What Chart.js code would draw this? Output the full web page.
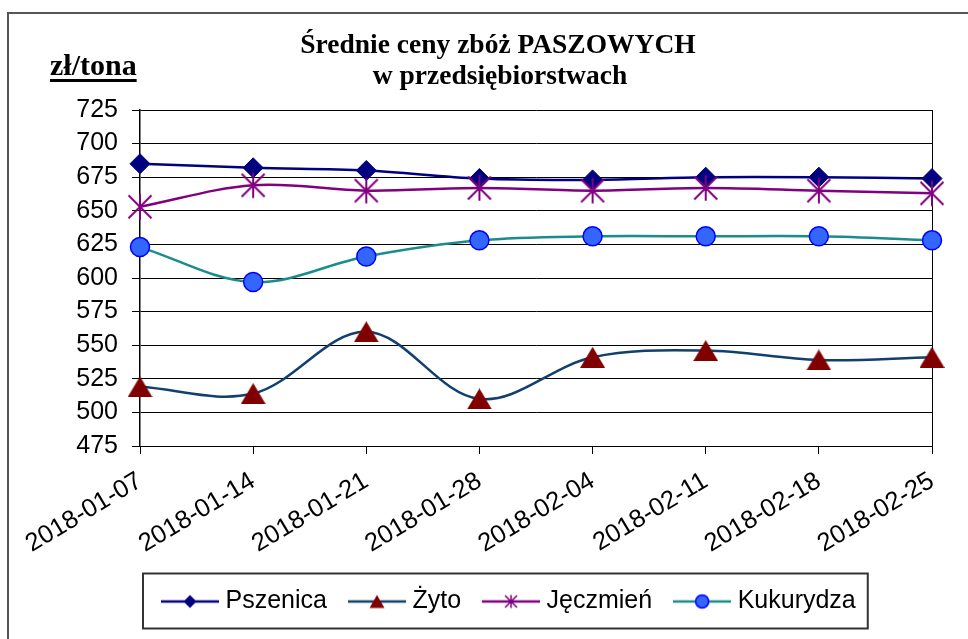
<!DOCTYPE html>
<html>
<head>
<meta charset="utf-8">
<script src="https://cdn.jsdelivr.net/npm/chart.js@4.4.1/dist/chart.umd.min.js"></script>
<style>
  html, body { margin: 0; padding: 0; background: #fff; }
  #wrap { width: 968px; height: 639px; }
</style>
</head>
<body>
<div id="wrap"><canvas id="wykres" width="968" height="639"></canvas></div>
<script>
// dane (zł/tona)
const daty = ["2018-01-07", "2018-01-14", "2018-01-21", "2018-01-28",
              "2018-02-04", "2018-02-11", "2018-02-18", "2018-02-25"];
const pszenica  = [685, 682, 680, 674, 673, 675, 675, 674];
const zyto      = [519, 514, 560, 510, 541, 546, 539, 541];
const jeczmien  = [653, 669, 665, 667, 665, 667, 665, 663];
const kukurydza = [623, 597, 616, 628, 631, 631, 631, 628];
const nazwy = ["Pszenica", "Żyto", "Jęczmień", "Kukurydza"];
const osY = { min: 475, max: 725, krok: 25 };

const SANS = "'Liberation Sans', Arial, sans-serif";
const SERIF = "'Liberation Serif', 'Times New Roman', serif";

// --- znaczniki jako małe płótna ---
function nowePlotno(w, h) {
  const c = document.createElement("canvas");
  c.width = w;
  c.height = h;
  return c;
}

function trojkat(ctx, cx, cy, w, h, kolor) {
  ctx.fillStyle = kolor;
  ctx.beginPath();
  ctx.moveTo(cx, cy - h / 2);
  ctx.lineTo(cx + w / 2, cy + h / 2);
  ctx.lineTo(cx - w / 2, cy + h / 2);
  ctx.closePath();
  ctx.fill();
}

function gwiazdka(ctx, cx, cy, r, kolor, grubosc) {
  ctx.strokeStyle = kolor;
  ctx.lineWidth = grubosc;
  ctx.beginPath();
  ctx.moveTo(cx, cy - r * 1.1);
  ctx.lineTo(cx, cy + r * 1.1);
  ctx.moveTo(cx - r, cy - r);
  ctx.lineTo(cx + r, cy + r);
  ctx.moveTo(cx - r, cy + r);
  ctx.lineTo(cx + r, cy - r);
  ctx.stroke();
}

function romb(ctx, cx, cy, r, kolor) {
  ctx.fillStyle = kolor;
  ctx.beginPath();
  ctx.moveTo(cx, cy - r);
  ctx.lineTo(cx + r, cy);
  ctx.lineTo(cx, cy + r);
  ctx.lineTo(cx - r, cy);
  ctx.closePath();
  ctx.fill();
}

function kolko(ctx, cx, cy, r, wypelnienie, obrys) {
  ctx.fillStyle = wypelnienie;
  ctx.strokeStyle = obrys;
  ctx.lineWidth = 1.5;
  ctx.beginPath();
  ctx.arc(cx, cy, r, 0, Math.PI * 2);
  ctx.fill();
  ctx.stroke();
}

const znacznikTrojkat = nowePlotno(25, 21);
trojkat(znacznikTrojkat.getContext("2d"), 12.5, 10.5, 25, 21, "#800000");

const znacznikGwiazda = nowePlotno(26, 28);
gwiazdka(znacznikGwiazda.getContext("2d"), 13, 14, 11.5, "#800080", 2);

// symbole legendy: linia z małym znacznikiem
function symbolLegendy(kolorLinii, rysuj) {
  const c = nowePlotno(58, 24);
  const ctx = c.getContext("2d");
  ctx.strokeStyle = kolorLinii;
  ctx.lineWidth = 2.5;
  ctx.beginPath();
  ctx.moveTo(0, 12);
  ctx.lineTo(58, 12);
  ctx.stroke();
  rysuj(ctx);
  return c;
}

const symbole = [
  symbolLegendy("#000080", (ctx) => romb(ctx, 29, 12, 6.5, "#000080")),
  symbolLegendy("#123f6e", (ctx) => trojkat(ctx, 29, 12, 15, 13, "#800000")),
  symbolLegendy("#800080", (ctx) => gwiazdka(ctx, 29, 12, 6, "#800080", 1.5)),
  symbolLegendy("#1a8c8c", (ctx) => kolko(ctx, 29, 12, 6.5, "#3366ff", "#0000ff")),
];

// --- wtyczki: ramka, tytuły, ramka legendy ---
const ramkaWykresu = {
  id: "ramkaWykresu",
  beforeDraw(chart) {
    const ctx = chart.ctx;
    ctx.save();
    ctx.fillStyle = "#fff";
    ctx.fillRect(0, 0, chart.width, chart.height);
    ctx.strokeStyle = "#555";
    ctx.lineWidth = 2;
    ctx.beginPath();
    ctx.moveTo(8, chart.height);
    ctx.lineTo(8, 13);
    ctx.lineTo(chart.width, 13);
    ctx.stroke();
    ctx.restore();
  },
};

const tytuly = {
  id: "tytuly",
  afterDraw(chart) {
    const ctx = chart.ctx;
    ctx.save();
    ctx.fillStyle = "#000";
    ctx.textBaseline = "alphabetic";
    ctx.textAlign = "center";
    ctx.font = "bold 27.5px " + SERIF;
    ctx.fillText("Średnie ceny zbóż PASZOWYCH", 498, 53);
    ctx.fillText("w przedsiębiorstwach", 500, 84);

    ctx.textAlign = "left";
    ctx.font = "bold 30px " + SERIF;
    ctx.fillText("zł/tona", 50, 75);
    const w = ctx.measureText("zł/tona").width;
    ctx.fillRect(50, 79, w, 3);
    ctx.restore();
  },
};

const ramkaLegendy = {
  id: "ramkaLegendy",
  afterDraw(chart) {
    const boxes = chart.legend && chart.legend.legendHitBoxes;
    if (!boxes || !boxes.length) return;
    const first = boxes[0];
    const last = boxes[boxes.length - 1];
    const srodek = first.top + first.height / 2;
    const ctx = chart.ctx;
    ctx.save();
    ctx.strokeStyle = "#333";
    ctx.lineWidth = 2;
    ctx.strokeRect(first.left - 24, srodek - 28, last.left + last.width + 12 - (first.left - 24), 55);
    ctx.restore();
  },
};

function serie(label, data, kolor, extra) {
  return Object.assign({
    label: label,
    data: data,
    borderColor: kolor,
    backgroundColor: kolor,
    borderWidth: 2.5,
    tension: 0.35,
    clip: false,
  }, extra);
}

const ctx = document.getElementById("wykres").getContext("2d");
new Chart(ctx, {
  type: "line",
  data: {
    labels: daty,
    datasets: [
      serie(nazwy[0], pszenica, "#000080", {
        order: 4,
        pointStyle: "rectRot",
        pointRadius: 10,
        pointBackgroundColor: "#000080",
        pointBorderColor: "#000080",
        pointBorderWidth: 1,
      }),
      serie(nazwy[1], zyto, "#123f6e", {
        order: 3,
        pointStyle: znacznikTrojkat,
      }),
      serie(nazwy[2], jeczmien, "#800080", {
        order: 2,
        pointStyle: znacznikGwiazda,
      }),
      serie(nazwy[3], kukurydza, "#1a8c8c", {
        order: 1,
        pointStyle: "circle",
        pointRadius: 9.5,
        pointBackgroundColor: "#3366ff",
        pointBorderColor: "#0000ff",
        pointBorderWidth: 1.5,
      }),
    ],
  },
  options: {
    responsive: false,
    animation: false,
    devicePixelRatio: 1,
    layout: {
      padding: { top: 110, left: 0, right: 36, bottom: 15 },
    },
    plugins: {
      title: { display: false },
      tooltip: { enabled: false },
      legend: {
        position: "bottom",
        fullSize: false,
        align: "start",
        labels: {
          usePointStyle: true,
          pointStyleWidth: 46,
          padding: 27,
          color: "#000",
          font: { family: SANS, size: 25 },
          generateLabels: () => nazwy.map((n, i) => ({
            text: n,
            pointStyle: symbole[i],
            fillStyle: "#000",
            strokeStyle: "#000",
            lineWidth: 0,
            hidden: false,
            datasetIndex: i,
            fontColor: "#000",
          })),
        },
      },
    },
    scales: {
      x: {
        offset: false,
        grid: {
          color: (c) => (c.index === daty.length - 1 ? "#000" : "rgba(0,0,0,0)"),
          tickColor: "#000",
          tickLength: 8,
          lineWidth: 1,
        },
        border: { color: "#000", width: 1 },
        ticks: {
          autoSkip: false,
          minRotation: 31,
          maxRotation: 31,
          padding: 12,
          color: "#000",
          font: { family: SANS, size: 25.5 },
        },
        afterFit: (s) => { s.height = 116; },
      },
      y: {
        min: osY.min,
        max: osY.max,
        grid: { color: "#000", tickColor: "#000", tickLength: 8, lineWidth: 1 },
        border: { color: "#000", width: 1.5 },
        ticks: {
          stepSize: osY.krok,
          padding: 14,
          color: "#000",
          font: { family: SANS, size: 25 },
        },
        afterFit: (s) => { s.width = 140; },
      },
    },
  },
  plugins: [ramkaWykresu, tytuly, ramkaLegendy],
});
</script>
</body>
</html>
